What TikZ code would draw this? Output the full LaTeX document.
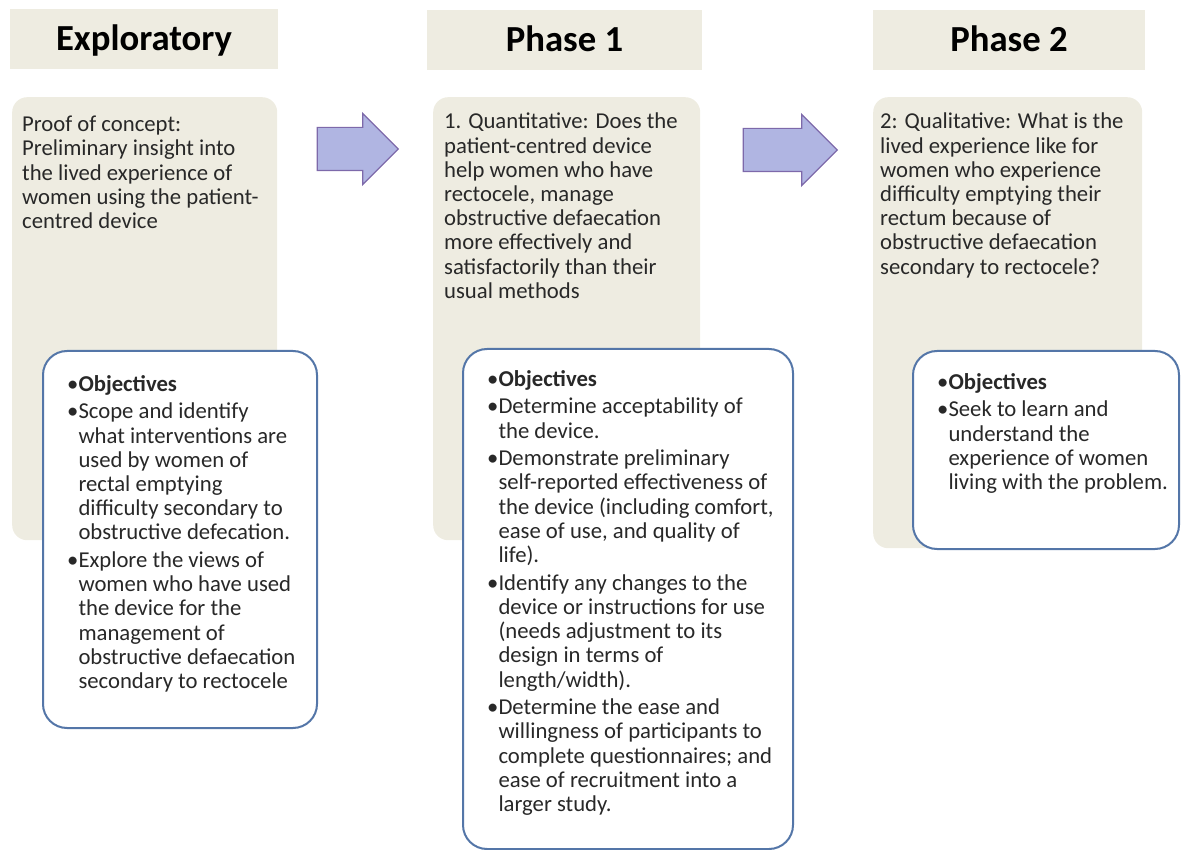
\documentclass[tikz,border=0pt]{standalone}
\usepackage{fontspec}
\setmainfont{Carlito}
\usepackage{xcolor}
\usepackage{tikz}
\usetikzlibrary{shapes.arrows, positioning}
\definecolor{paneltan}{RGB}{238,236,225}
\definecolor{objblue}{RGB}{84,118,168}
\definecolor{arrowfill}{RGB}{176,181,226}
\definecolor{arrowline}{RGB}{125,105,170}
\definecolor{bodygray}{RGB}{40,40,40}

\tikzset{
  header/.style={fill=paneltan, minimum height=60pt, inner sep=0pt, text height=30pt, text depth=6pt, font=\fontsize{36.7}{40}\selectfont\bfseries},
  phasebox/.style={fill=paneltan, rounded corners=15pt, anchor=north west, inner sep=0pt},
  objbox/.style={draw=objblue, line width=2pt, fill=white, rounded corners=24pt, anchor=north west, inner sep=0pt},
  bodytext/.style={align=left, anchor=north west, inner sep=0pt, text=bodygray, font=\fontsize{22.7}{24.2}\selectfont},
  nextarrow/.style={single arrow, draw=arrowline, fill=arrowfill, line width=1.2pt, inner xsep=0pt, inner ysep=21pt, single arrow head extend=14pt, single arrow tip angle=90}
}

\begin{document}
\begin{tikzpicture}[x=1pt, y=-1pt]
\useasboundingbox (0,0) rectangle (1181,850);

\node[header, minimum width=268pt] (hExp) at (144,39) {Exploratory};
\node[header, minimum width=275pt] (hOne) at (564.5,40) {Phase 1};
\node[header, minimum width=272pt] (hTwo) at (1009,40) {Phase 2};

\node[phasebox, minimum width=265pt, minimum height=443pt] (bExp) at (12,97) {};
\node[phasebox, minimum width=267pt, minimum height=443pt] (bOne) at (433,97) {};
\node[phasebox, minimum width=269pt, minimum height=451pt] (bTwo) at (873,97) {};

\node[bodytext, below right=19pt and 10pt of bExp.north west] (tExp) {Proof of concept:\\Preliminary insight into\\the lived experience of\\women using the patient-\\centred device};
\node[bodytext, below right=16pt and 11pt of bOne.north west] (tOne) {1. Quantitative: Does the\\patient-centred device\\help women who have\\rectocele, manage\\obstructive defaecation\\more effectively and\\satisfactorily than their\\usual methods};
\node[bodytext, below right=16pt and 7pt of bTwo.north west] (tTwo) {2: Qualitative: What is the\\lived experience like for\\women who experience\\difficulty emptying their\\rectum because of\\obstructive defaecation\\secondary to rectocele?};

\node[nextarrow, minimum height=81pt] (arrA) at (347,149) {};
\node[nextarrow, minimum height=94pt] (arrB) at (779.5,150) {};

\node[objbox, minimum width=274pt, minimum height=377pt] (oExp) at (42,350) {};
\node[objbox, minimum width=330pt, minimum height=500pt] (oOne) at (462,348) {};
\node[objbox, minimum width=266pt, minimum height=198pt] (oTwo) at (912,350) {};

\node[bodytext, below right=24pt and 25pt of oExp.north west] (lExp) {\begin{tabular}{@{}l@{}l@{}}
•&\textbf{Objectives}\\[3.5pt]
•&Scope and identify\\
&what interventions are\\
&used by women of\\
&rectal emptying\\
&difficulty secondary to\\
&obstructive defecation.\\[3.5pt]
•&Explore the views of\\
&women who have used\\
&the device for the\\
&management of\\
&obstructive defaecation\\
&secondary to rectocele
\end{tabular}};
\node[bodytext, below right=21pt and 25pt of oOne.north west] (lOne) {\begin{tabular}{@{}l@{}l@{}}
•&\textbf{Objectives}\\[3.5pt]
•&Determine acceptability of\\
&the device.\\[3.5pt]
•&Demonstrate preliminary\\
&self-reported effectiveness of\\
&the device (including comfort,\\
&ease of use, and quality of\\
&life).\\[3.5pt]
•&Identify any changes to the\\
&device or instructions for use\\
&(needs adjustment to its\\
&design in terms of\\
&length/width).\\[3.5pt]
•&Determine the ease and\\
&willingness of participants to\\
&complete questionnaires; and\\
&ease of recruitment into a\\
&larger study.
\end{tabular}};
\node[bodytext, below right=22pt and 25pt of oTwo.north west] (lTwo) {\begin{tabular}{@{}l@{}l@{}}
•&\textbf{Objectives}\\[3.5pt]
•&Seek to learn and\\
&understand the\\
&experience of women\\
&living with the problem.
\end{tabular}};
\end{tikzpicture}
\end{document}
